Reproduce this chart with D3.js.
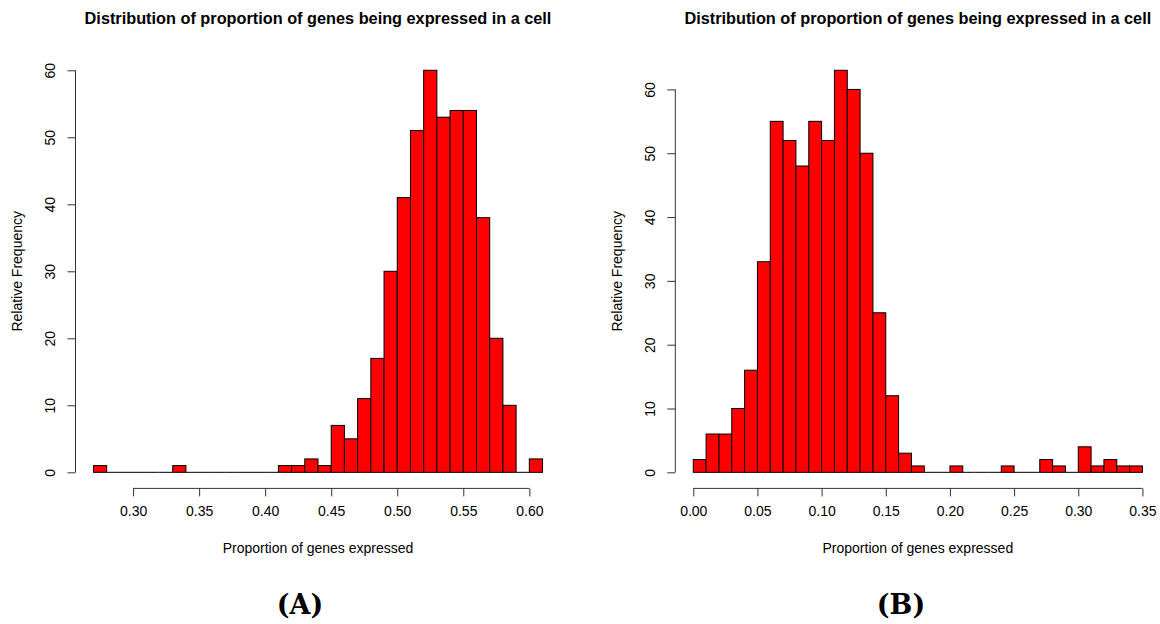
<!DOCTYPE html>
<html>
<head>
<meta charset="utf-8">
<script src="https://cdn.jsdelivr.net/npm/d3@7"></script>
<style>
  html, body { margin: 0; padding: 0; background: #fff; }
  svg { display: block; }
  text { font-family: "Liberation Sans", Arial, Helvetica, sans-serif; fill: #000; }
</style>
</head>
<body>
<svg id="chart" width="1160" height="624"></svg>
<script>
// Panel A: histogram counts per 0.01-wide bin, starting at 0.27
const countsA = [1, 0, 0, 0, 0, 0, 1, 0, 0, 0, 0, 0, 0, 0, 1, 1, 2, 1, 7, 5, 11, 17, 30, 41, 51, 60, 53, 54, 54, 38, 20, 10, 0, 2];
const binStartA = 0.27;
// Panel B: histogram counts per 0.01-wide bin, starting at 0.00
const countsB = [2, 6, 6, 10, 16, 33, 55, 52, 48, 55, 52, 63, 60, 50, 25, 12, 3, 1, 0, 0, 1, 0, 0, 0, 1, 0, 0, 2, 1, 0, 4, 1, 2, 1, 1];
const binStartB = 0.00;
const binWidth = 0.01;

const xTicksA = [0.30, 0.35, 0.40, 0.45, 0.50, 0.55, 0.60];
const xTicksB = [0.00, 0.05, 0.10, 0.15, 0.20, 0.25, 0.30, 0.35];
const yTicks = [0, 10, 20, 30, 40, 50, 60];

const mainTitle = "Distribution of proportion of genes being expressed in a cell";
const xTitle = "Proportion of genes expressed";
const yTitle = "Relative Frequency";
const panelLabels = ["(A)", "(B)"];

const svg = d3.select("#chart");

const plotTop = 54.2, plotBottom = 488.4;

function drawPanel(cfg) {
  const counts = cfg.counts;
  const bins = counts.map((c, i) => ({
    x0: cfg.binStart + i * binWidth,
    x1: cfg.binStart + (i + 1) * binWidth,
    n: c
  }));
  const lo = bins[0].x0, hi = bins[bins.length - 1].x1;
  const padX = (hi - lo) * 0.04;
  const x = d3.scaleLinear().domain([lo - padX, hi + padX]).range([cfg.left, cfg.right]);
  const ymax = d3.max(counts);
  const y = d3.scaleLinear().domain([-0.04 * ymax, 1.04 * ymax]).range([plotBottom, plotTop]);

  const g = svg.append("g");

  // bars
  g.append("g").selectAll("rect")
    .data(bins.filter(d => d.n > 0))
    .join("rect")
    .attr("x", d => x(d.x0))
    .attr("y", d => y(d.n))
    .attr("width", d => x(d.x1) - x(d.x0))
    .attr("height", d => y(0) - y(d.n))
    .attr("fill", "#ff0000")
    .attr("stroke", "#000")
    .attr("stroke-width", 1);

  // baseline segments for empty bins (histogram outline at zero)
  g.append("g").selectAll("line")
    .data(bins.filter(d => d.n === 0))
    .join("line")
    .attr("x1", d => x(d.x0)).attr("x2", d => x(d.x1))
    .attr("y1", y(0)).attr("y2", y(0))
    .attr("stroke", "#000").attr("stroke-width", 1);

  // x axis
  const xAxis = d3.axisBottom(x)
    .tickValues(cfg.xTicks)
    .tickFormat(d3.format(".2f"))
    .tickSize(8)
    .tickPadding(10)
    .tickSizeOuter(0);
  const gx = g.append("g")
    .attr("transform", `translate(0,${plotBottom})`)
    .call(xAxis);
  gx.select(".domain")
    .attr("d", `M${x(cfg.xTicks[0])},0H${x(cfg.xTicks[cfg.xTicks.length - 1])}`)
    .attr("stroke", "#333");
  gx.selectAll(".tick line").attr("stroke", "#333");
  gx.selectAll(".tick text")
    .style("font-family", "'Liberation Sans', Arial, sans-serif")
    .style("font-size", "14px")
    .attr("fill", "#000");

  // y axis with vertical labels
  const yAxis = d3.axisLeft(y)
    .tickValues(yTicks)
    .tickSize(8)
    .tickSizeOuter(0);
  const gy = g.append("g")
    .attr("transform", `translate(${cfg.left},0)`)
    .call(yAxis);
  gy.select(".domain")
    .attr("d", `M0,${y(yTicks[0])}V${y(yTicks[yTicks.length - 1])}`)
    .attr("stroke", "#333");
  gy.selectAll(".tick line").attr("stroke", "#333");
  gy.selectAll(".tick text")
    .attr("x", null).attr("dy", null)
    .attr("transform", "translate(-24,0) rotate(-90)")
    .attr("text-anchor", "middle")
    .attr("dominant-baseline", "middle")
    .style("font-family", "'Liberation Sans', Arial, sans-serif")
    .style("font-size", "14px")
    .attr("fill", "#000");

  const cx = (cfg.left + cfg.right) / 2;
  const cy = (plotTop + plotBottom) / 2;

  g.append("text")
    .attr("x", cx).attr("y", 24)
    .attr("text-anchor", "middle")
    .style("font-size", "16.3px")
    .style("font-weight", "bold")
    .text(mainTitle);

  g.append("text")
    .attr("x", cx).attr("y", 553)
    .attr("text-anchor", "middle")
    .style("font-size", "14px")
    .text(xTitle);

  g.append("text")
    .attr("transform", `translate(${cfg.left - 57},${cy}) rotate(-90)`)
    .attr("text-anchor", "middle")
    .attr("dominant-baseline", "middle")
    .style("font-size", "14px")
    .text(yTitle);

  svg.append("text")
    .attr("x", cfg.labelX).attr("y", 614)
    .attr("text-anchor", "middle")
    .style("font-family", "'DejaVu Serif', serif")
    .style("font-weight", "bold")
    .style("font-size", "27px")
    .text(cfg.label);
}

drawPanel({ counts: countsA, binStart: binStartA, xTicks: xTicksA, left: 75.5, right: 560.5, label: panelLabels[0], labelX: 300 });
drawPanel({ counts: countsB, binStart: binStartB, xTicks: xTicksB, left: 675.3, right: 1160.4, label: panelLabels[1], labelX: 901 });
</script>
</body>
</html>
